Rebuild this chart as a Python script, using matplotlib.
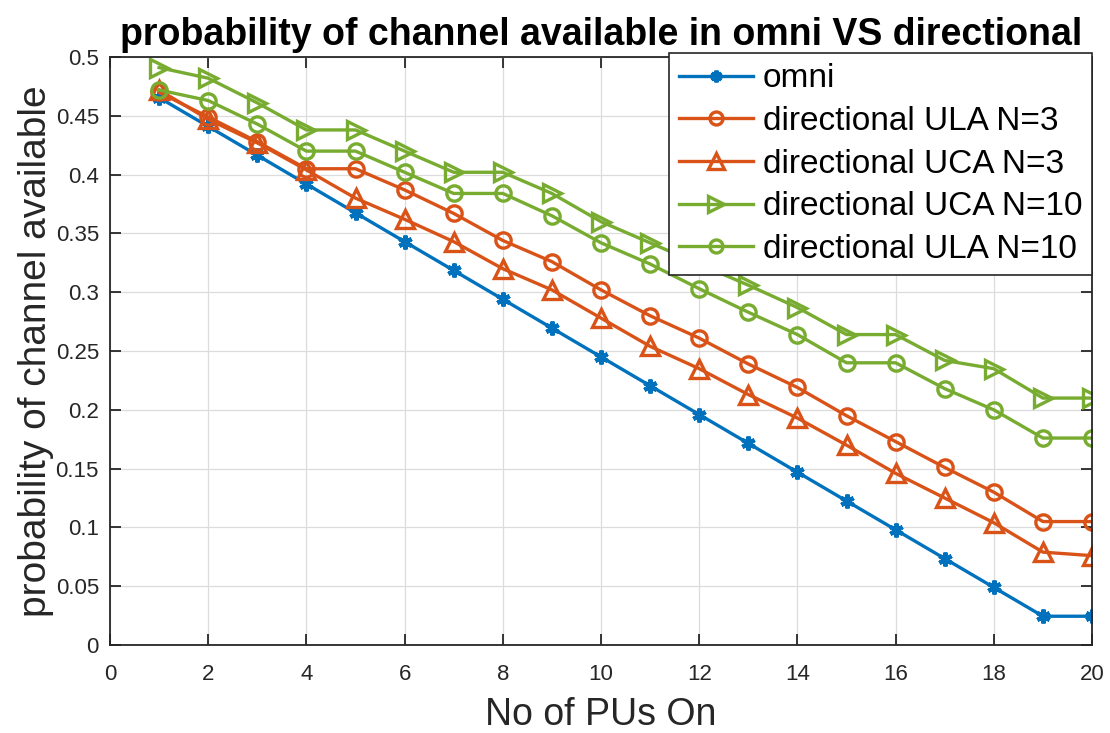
import numpy as np
import matplotlib
matplotlib.use('Agg')
import matplotlib.pyplot as plt

plt.rcParams['font.family'] = ['Liberation Sans', 'DejaVu Sans']

# number of primary users switched on
pus_on = np.arange(1, 21)

omni = [0.4655, 0.441, 0.4165, 0.392, 0.3675, 0.343, 0.3185, 0.294, 0.2695, 0.245,
        0.2205, 0.196, 0.1715, 0.147, 0.1225, 0.098, 0.0735, 0.049, 0.0245, 0.0245]
ula_n3 = [0.470, 0.449, 0.428, 0.405, 0.405, 0.387, 0.367, 0.344, 0.326, 0.302,
          0.280, 0.261, 0.239, 0.219, 0.195, 0.173, 0.151, 0.130, 0.105, 0.105]
uca_n3 = [0.472, 0.447, 0.427, 0.404, 0.380, 0.362, 0.343, 0.320, 0.302, 0.278,
          0.254, 0.235, 0.213, 0.193, 0.170, 0.146, 0.125, 0.104, 0.079, 0.076]
uca_n10 = [0.491, 0.482, 0.461, 0.438, 0.438, 0.420, 0.402, 0.402, 0.384, 0.360,
           0.342, 0.324, 0.306, 0.287, 0.264, 0.264, 0.242, 0.235, 0.210, 0.210]
ula_n10 = [0.472, 0.463, 0.443, 0.420, 0.420, 0.402, 0.384, 0.384, 0.365, 0.342,
           0.324, 0.303, 0.283, 0.264, 0.240, 0.240, 0.218, 0.200, 0.176, 0.176]

blue = '#0072BD'
orange = '#D95319'
green = '#77AC30'

fig = plt.figure(figsize=(11.1, 7.33), dpi=100)
ax = fig.add_axes([0.0991, 0.12, 0.8847, 0.8022])

lw = 2.4
ms = 11
ax.plot(pus_on, omni, color=blue, lw=lw, marker=(6, 2, 0), ms=10, mew=3,
        label='omni')
ax.plot(pus_on, ula_n3, color=orange, lw=lw, marker='o', ms=ms, mew=2.4,
        mfc='none', label='directional ULA N=3')
ax.plot(pus_on, uca_n3, color=orange, lw=lw, marker='^', ms=ms + 2, mew=2.4,
        mfc='none', label='directional UCA N=3')
ax.plot(pus_on, uca_n10, color=green, lw=lw, marker='>', ms=ms + 2, mew=2.4,
        mfc='none', label='directional UCA N=10')
ax.plot(pus_on, ula_n10, color=green, lw=lw, marker='o', ms=ms, mew=2.4,
        mfc='none', label='directional ULA N=10')

ax.set_xlim(0, 20)
ax.set_ylim(0, 0.5)
ax.set_xticks(np.arange(0, 21, 2))
ax.set_yticks(np.arange(0, 0.51, 0.05))
ax.set_yticklabels(['0', '0.05', '0.1', '0.15', '0.2', '0.25', '0.3', '0.35',
                    '0.4', '0.45', '0.5'])
ax.tick_params(direction='in', top=True, right=True, length=8, width=1.3,
               labelsize=16, colors='#262626')
ax.tick_params(axis='x', pad=14)
ax.tick_params(axis='y', pad=8)
for s in ax.spines.values():
    s.set_linewidth(1.3)
    s.set_color('#262626')
ax.grid(True, color='#dcdcdc', lw=0.9)
ax.set_axisbelow(True)

ax.set_xlabel('No of PUs On', fontsize=27, color='#262626', labelpad=8)
ax.set_ylabel('probability of channel available', fontsize=28, color='#262626',
              labelpad=1)
ax.set_title('probability of channel available in omni VS directional',
             fontsize=27, fontweight='bold', pad=9)

leg = ax.legend(loc='upper right', bbox_to_anchor=(1.0, 1.006), borderaxespad=0,
                fontsize=24, fancybox=False, framealpha=1, edgecolor='#262626',
                handlelength=2.2, handletextpad=0.3, labelspacing=0.35,
                borderpad=0.3, markerscale=0.85)
leg.get_frame().set_linewidth(1.2)

fig.savefig('out.png', dpi=100)
